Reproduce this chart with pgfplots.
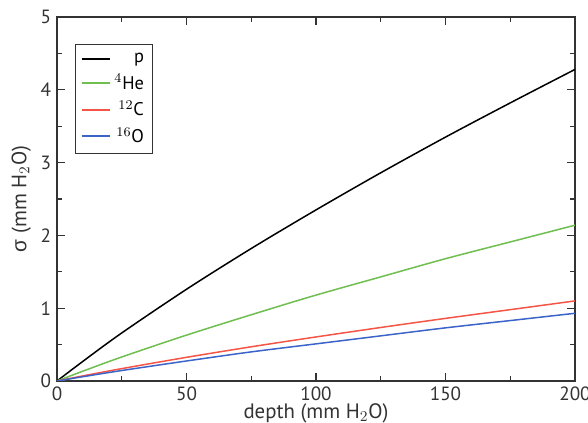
\documentclass[border=0pt]{standalone}
\usepackage{fontspec}
\setmainfont{PT Sans}
\newfontfamily\gr{Liberation Sans}
\usepackage{pgfplots}
\pgfplotsset{compat=1.18}
\definecolor{cp}{RGB}{0,0,0}
\definecolor{che}{RGB}{110,190,80}
\definecolor{cc}{RGB}{245,85,70}
\definecolor{co}{RGB}{60,100,200}
\begin{document}
\begin{tikzpicture}
\begin{axis}[
  name=ax,
  scale only axis,
  width=310.8pt, height=218.4pt,
  xmin=0, xmax=200, ymin=0, ymax=5,
  xtick={0,50,100,150,200}, ytick={0,1,2,3,4,5},
  minor x tick num=1, minor y tick num=1,
  tick align=inside,
  major tick length=5pt, minor tick length=3pt,
  tick style={black!80, line width=0.8pt},
  axis line style={line width=0.9pt, black!80},
  /pgf/number format/assume math mode=true,
  ticklabel style={font=\fontsize{11.5}{13}\selectfont, text=black!80},
  xlabel={depth (mm H$_2$O)},
  ylabel={{\gr σ} (mm H$_2$O)},
  label style={font=\fontsize{12.5}{14}\selectfont, text=black!80},
  xlabel style={yshift=5pt},
  ylabel style={yshift=-1pt},
  legend style={at={(0.035,0.926)}, anchor=north west, draw=black!80, line width=0.6pt,
    font=\fontsize{11}{12}\selectfont, row sep=1.5pt, inner xsep=3pt, inner ysep=3pt},
  legend cell align=right,
  legend image post style={line width=1.2pt},
  every axis plot/.append style={smooth, tension=0.5},
]
\addplot[color=cp, line width=0.9pt] coordinates {(0,0) (10,0.27) (25,0.66) (50,1.26) (75,1.82) (100,2.35) (125,2.86) (150,3.35) (175,3.82) (200,4.28)};
\addplot[color=che, line width=0.9pt] coordinates {(0,0) (10,0.135) (25,0.33) (50,0.63) (75,0.91) (100,1.18) (125,1.43) (150,1.68) (175,1.91) (200,2.14)};
\addplot[color=cc, line width=0.9pt] coordinates {(0,0) (10,0.07) (25,0.17) (50,0.325) (75,0.47) (100,0.605) (125,0.735) (150,0.86) (175,0.98) (200,1.10)};
\addplot[color=co, line width=0.9pt] coordinates {(0,0) (10,0.059) (25,0.144) (50,0.275) (75,0.40) (100,0.51) (125,0.62) (150,0.73) (175,0.83) (200,0.93)};
\legend{p, $^4$He, $^{12}$C, $^{16}$O}
\end{axis}
\pgfresetboundingbox
\path ([xshift=-34.2pt,yshift=-25.2pt]ax.south west) rectangle ([xshift=7.8pt,yshift=10.2pt]ax.north east);
\end{tikzpicture}
\end{document}
